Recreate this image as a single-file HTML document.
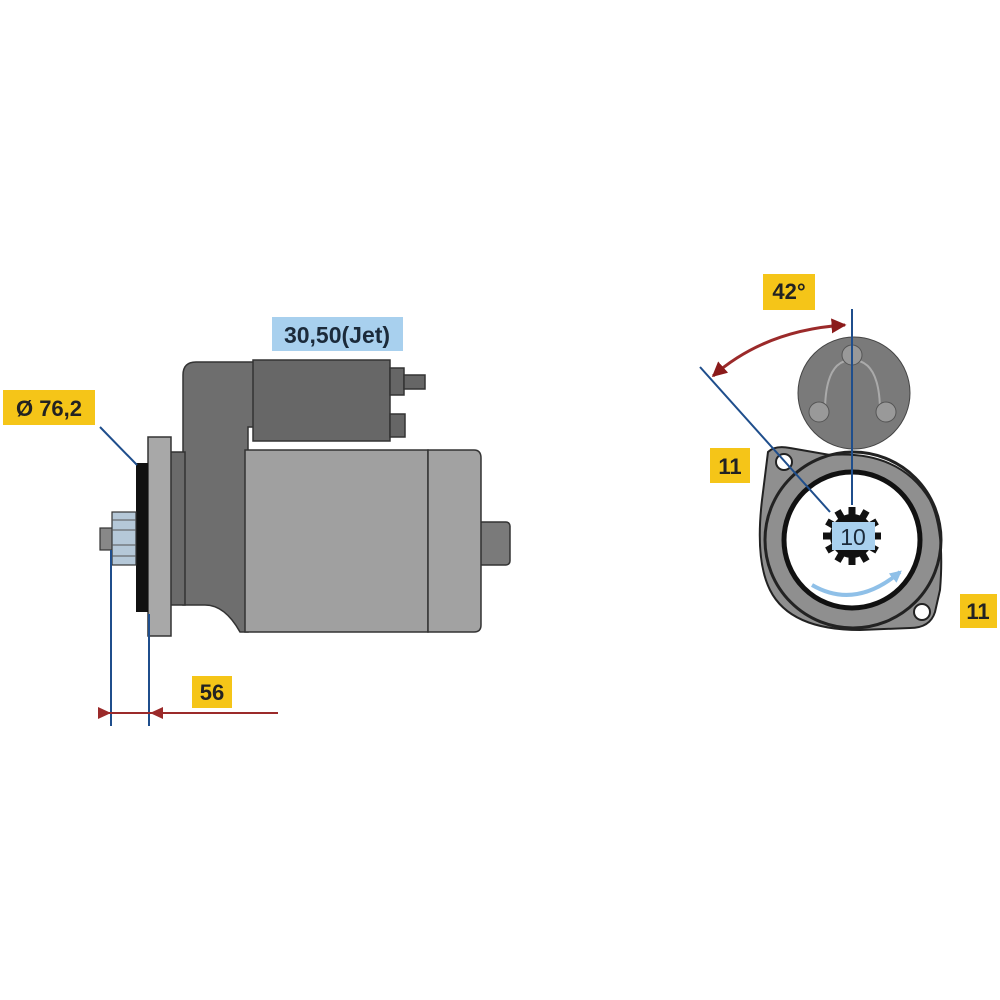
<!DOCTYPE html>
<html><head><style>
html,body{margin:0;padding:0;background:#fff;}
svg{display:block;}
text{font-family:"Liberation Sans",sans-serif;font-weight:bold;}
</style></head><body>
<svg width="1000" height="1000" viewBox="0 0 1000 1000" xmlns="http://www.w3.org/2000/svg">
<defs>
<marker id="ar" viewBox="0 0 10 10" refX="9" refY="5" markerWidth="5" markerHeight="5" orient="auto-start-reverse"><path d="M0,0 L10,5 L0,10 z" fill="#8b1a1a"/></marker>
<marker id="ab" viewBox="0 0 10 10" refX="8" refY="5" markerWidth="3" markerHeight="3" orient="auto"><path d="M0,0 L10,5 L0,10 z" fill="#8fc0e8"/></marker>
</defs>
<!-- LEFT VIEW -->
<rect x="272" y="317" width="131" height="34" fill="#a8d0ee"/>
<text x="337" y="343" font-size="23" text-anchor="middle" fill="#1b2a3a">30,50(Jet)</text>
<rect x="3" y="390" width="92" height="35" fill="#f5c518"/>
<text x="49" y="416" font-size="22" text-anchor="middle" fill="#222">Ø 76,2</text>
<rect x="478" y="522" width="32" height="43" rx="4" fill="#7a7a7a" stroke="#333" stroke-width="1.5"/>
<path d="M183,375 Q183,362 196,362 L256,362 L256,427 L248,427 L248,632 L240,632 Q225,605 205,605 L183,605 Z" fill="#6e6e6e" stroke="#333" stroke-width="1.5"/>
<rect x="170" y="452" width="15" height="153" fill="#6a6a6a" stroke="#333" stroke-width="1.5"/>
<rect x="253" y="360" width="137" height="81" fill="#676767" stroke="#333" stroke-width="1.5"/>
<rect x="390" y="368" width="14" height="27" fill="#666" stroke="#333" stroke-width="1.5"/>
<rect x="404" y="375" width="21" height="14" fill="#666" stroke="#333" stroke-width="1.5"/>
<rect x="390" y="414" width="15" height="23" fill="#666" stroke="#333" stroke-width="1.5"/>
<rect x="245" y="450" width="183" height="182" fill="#a0a0a0" stroke="#333" stroke-width="1.5"/>
<path d="M428,450 L474,450 Q481,450 481,458 L481,625 Q481,632 474,632 L428,632 Z" fill="#a2a2a2" stroke="#333" stroke-width="1.5"/>
<rect x="148" y="437" width="23" height="199" fill="#a8a8a8" stroke="#333" stroke-width="1.5"/>
<rect x="136" y="463" width="12" height="149" fill="#111"/>
<rect x="100" y="528" width="13" height="22" fill="#888" stroke="#333" stroke-width="1.2"/>
<rect x="112" y="512" width="24" height="53" fill="#b5c8d8" stroke="#333" stroke-width="1.2"/>
<line x1="112" y1="520" x2="136" y2="520" stroke="#555"/><line x1="112" y1="530" x2="136" y2="530" stroke="#555"/><line x1="112" y1="545" x2="136" y2="545" stroke="#555"/><line x1="112" y1="556" x2="136" y2="556" stroke="#555"/>
<line x1="100" y1="427" x2="137" y2="465" stroke="#1f4e8c" stroke-width="2"/>
<line x1="111" y1="550" x2="111" y2="726" stroke="#1f4e8c" stroke-width="2"/>
<line x1="149" y1="614" x2="149" y2="726" stroke="#1f4e8c" stroke-width="2"/>
<line x1="98" y1="713" x2="278" y2="713" stroke="#9b2a2a" stroke-width="2"/>
<path d="M98,707 L111,713 L98,719 z" fill="#9b2a2a"/>
<path d="M163,707 L150,713 L163,719 z" fill="#9b2a2a"/>
<rect x="192" y="676" width="40" height="32" fill="#f5c518"/>
<text x="212" y="700" font-size="22" text-anchor="middle" fill="#222">56</text>
<!-- RIGHT VIEW -->
<rect x="763" y="274" width="52" height="36" fill="#f5c518"/>
<text x="789" y="299" font-size="22" text-anchor="middle" fill="#222">42°</text>
<circle cx="854" cy="393" r="56" fill="#7a7a7a" stroke="#444" stroke-width="1"/>
<path d="M825,412 Q825,360 852,360 Q880,360 880,412" fill="none" stroke="#aaa" stroke-width="2"/>
<circle cx="819" cy="412" r="10" fill="#999" stroke="#555"/>
<circle cx="886" cy="412" r="10" fill="#999" stroke="#555"/>
<circle cx="852" cy="355" r="10" fill="#999" stroke="#555"/>
<path d="M768,452 Q775,445 790,448 L830,455 Q900,450 930,500 Q945,530 940,590 L935,612 Q930,628 910,628 L860,630 Q790,630 770,590 Q755,560 762,500 Z" fill="#8f8f8f" stroke="#222" stroke-width="2"/>
<circle cx="853" cy="540" r="88" fill="none" stroke="#222" stroke-width="3"/>
<circle cx="852" cy="540" r="68" fill="#fff" stroke="#111" stroke-width="5"/>
<circle cx="784" cy="462" r="8" fill="#fff" stroke="#222" stroke-width="2"/>
<circle cx="922" cy="612" r="8" fill="#fff" stroke="#222" stroke-width="2"/>
<g transform="translate(852,536)">
<circle r="22" fill="#111"/>
<g fill="#111">
<rect x="-3.5" y="-29" width="7" height="10"/><rect x="-3.5" y="-29" width="7" height="10" transform="rotate(30)"/><rect x="-3.5" y="-29" width="7" height="10" transform="rotate(60)"/>
<rect x="-3.5" y="-29" width="7" height="10" transform="rotate(90)"/><rect x="-3.5" y="-29" width="7" height="10" transform="rotate(120)"/><rect x="-3.5" y="-29" width="7" height="10" transform="rotate(150)"/>
<rect x="-3.5" y="-29" width="7" height="10" transform="rotate(180)"/><rect x="-3.5" y="-29" width="7" height="10" transform="rotate(210)"/><rect x="-3.5" y="-29" width="7" height="10" transform="rotate(240)"/>
<rect x="-3.5" y="-29" width="7" height="10" transform="rotate(270)"/><rect x="-3.5" y="-29" width="7" height="10" transform="rotate(300)"/><rect x="-3.5" y="-29" width="7" height="10" transform="rotate(330)"/>
</g></g>
<rect x="832" y="522" width="43" height="28" fill="#a8d0ee"/>
<text x="853" y="545" font-size="23" text-anchor="middle" fill="#1b2a3a" style="font-weight:normal">10</text>
<path d="M812,585 Q855,610 900,572" fill="none" stroke="#8fc0e8" stroke-width="4" marker-end="url(#ab)"/>
<line x1="852" y1="309" x2="852" y2="505" stroke="#1f4e8c" stroke-width="2"/>
<line x1="700" y1="367" x2="830" y2="512" stroke="#1f4e8c" stroke-width="2"/>
<path d="M713,376 Q765,330 845,325" fill="none" stroke="#9b2a2a" stroke-width="3" marker-start="url(#ar)" marker-end="url(#ar)"/>
<rect x="710" y="448" width="40" height="35" fill="#f5c518"/>
<text x="730" y="474" font-size="22" text-anchor="middle" fill="#222">11</text>
<rect x="960" y="594" width="37" height="34" fill="#f5c518"/>
<text x="978" y="619" font-size="22" text-anchor="middle" fill="#222">11</text>
</svg>
</body></html>
